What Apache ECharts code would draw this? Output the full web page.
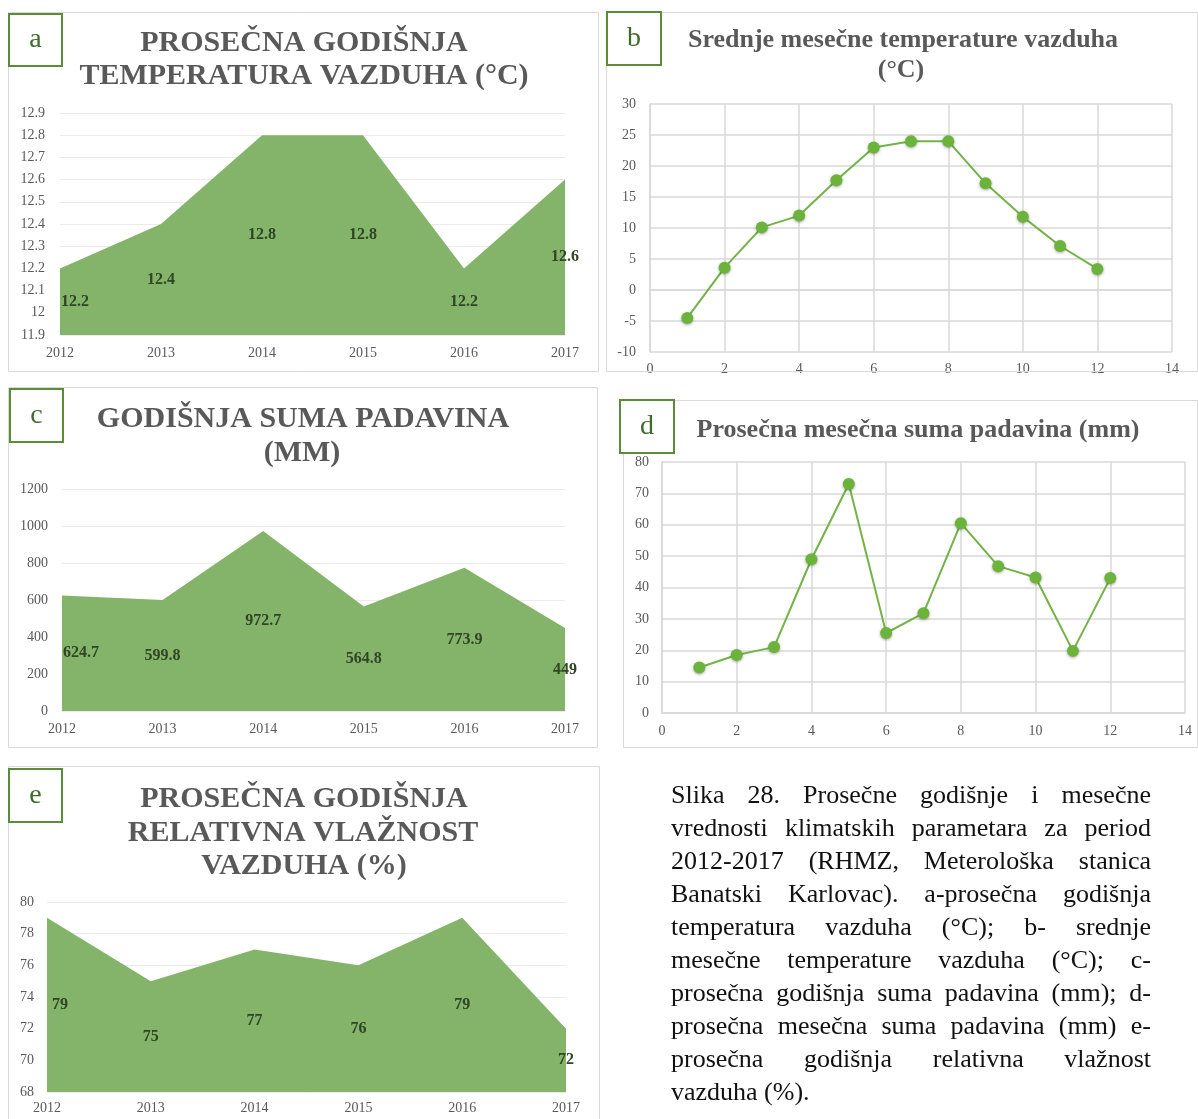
<!DOCTYPE html>
<html>
<head>
<meta charset="utf-8">
<script src="https://cdn.jsdelivr.net/npm/echarts@6/dist/echarts.min.js"></script>
<style>
html,body{margin:0;padding:0;background:#fff;}
#chart{position:absolute;left:0;top:0;width:1198px;height:1119px;}
#caption{position:absolute;left:671px;top:778px;width:480px;font-family:'Liberation Serif','Times New Roman',serif;font-size:26px;line-height:33px;color:#111;}
#caption .l{text-align:justify;text-align-last:justify;}
#caption .last{text-align:left;}
</style>
</head>
<body>
<div id="chart"></div>
<div id="caption">
<div class="l">Slika 28. Prosečne godišnje i mesečne</div>
<div class="l">vrednosti klimatskih parametara za period</div>
<div class="l">2012-2017 (RHMZ, Meterološka stanica</div>
<div class="l">Banatski Karlovac). a-prosečna godišnja</div>
<div class="l">temperatura vazduha (°C); b- srednje</div>
<div class="l">mesečne temperature vazduha (°C); c-</div>
<div class="l">prosečna godišnja suma padavina (mm); d-</div>
<div class="l">prosečna mesečna suma padavina (mm) e-</div>
<div class="l">prosečna godišnja relativna vlažnost</div>
<div class="last">vazduha (%).</div>
</div>
<script>
// ---- data ----
const years = ['2012', '2013', '2014', '2015', '2016', '2017'];
const tempYear = [12.2, 12.4, 12.8, 12.8, 12.2, 12.6];
const precipYear = [624.7, 599.8, 972.7, 564.8, 773.9, 449];
const humidYear = [79, 75, 77, 76, 79, 72];
const months = [1, 2, 3, 4, 5, 6, 7, 8, 9, 10, 11, 12];
const tempMonth = [-4.5, 3.6, 10.1, 12.0, 17.7, 23.0, 24.0, 24.0, 17.2, 11.8, 7.1, 3.4];
const precipMonth = [14.5, 18.5, 21.0, 49.0, 73.0, 25.5, 31.8, 60.5, 46.8, 43.2, 19.8, 43.0];

const FONT = '"Liberation Serif","Times New Roman",serif';
const AXC = '#595959';
const AREA = '#84b46a';
const LINEC = '#72b347';
const MARK = '#6cb33c';
const LBL = '#2f4524';

const chart = echarts.init(document.getElementById('chart'));

function catX(gi, margin) {
  return {
    type: 'category', gridIndex: gi, data: years, boundaryGap: false,
    axisLine: {show: false}, axisTick: {show: false},
    axisLabel: {color: AXC, fontFamily: FONT, fontSize: 14, margin: margin},
    splitLine: {show: false}
  };
}
function valY(gi, min, max, interval, margin, fmt) {
  return {
    type: 'value', gridIndex: gi, min: min, max: max, interval: interval,
    axisLine: {show: false}, axisTick: {show: false},
    axisLabel: {color: AXC, fontFamily: FONT, fontSize: 14, margin: margin, formatter: fmt},
    splitLine: {show: true, lineStyle: {color: '#ebebeb', width: 1}}
  };
}
function valXGrid(gi, margin) {
  return {
    type: 'value', gridIndex: gi, min: 0, max: 14, interval: 2,
    axisLine: {show: true, onZero: true, lineStyle: {color: '#d9d9d9', width: 1.5}},
    axisTick: {show: false},
    axisLabel: {color: AXC, fontFamily: FONT, fontSize: 14, margin: margin},
    splitLine: {show: true, lineStyle: {color: '#d9d9d9', width: 1.5}}
  };
}
function valYGrid(gi, min, max, interval, margin) {
  return {
    type: 'value', gridIndex: gi, min: min, max: max, interval: interval,
    axisLine: {show: true, onZero: true, lineStyle: {color: '#d9d9d9', width: 1.5}},
    axisTick: {show: false},
    axisLabel: {color: AXC, fontFamily: FONT, fontSize: 14, margin: margin},
    splitLine: {show: true, lineStyle: {color: '#d9d9d9', width: 1.5}}
  };
}
function areaSeries(id, xi, vals) {
  return {
    id: id, type: 'line', xAxisIndex: xi, yAxisIndex: xi, data: vals,
    symbol: 'circle', symbolSize: 1, showSymbol: true,
    itemStyle: {color: 'rgba(0,0,0,0)'},
    lineStyle: {width: 0},
    areaStyle: {color: AREA, opacity: 1, origin: 'start'},
    label: {show: true, position: 'inside', color: LBL, fontFamily: FONT, fontWeight: 'bold', fontSize: 16},
    emphasis: {disabled: true}, silent: true, z: 2
  };
}
function markerSeries(id, xi, xs, ys) {
  return {
    id: id, type: 'line', xAxisIndex: xi, yAxisIndex: xi,
    data: xs.map((x, i) => [x, ys[i]]),
    symbol: 'circle', symbolSize: 12, showSymbol: true,
    itemStyle: {color: MARK, shadowBlur: 3, shadowColor: 'rgba(0,0,0,0.35)', shadowOffsetY: 1},
    lineStyle: {color: LINEC, width: 2},
    emphasis: {disabled: true}, silent: true, z: 3
  };
}

function title(x, y, text, size) {
  return {
    type: 'text', x: x, y: y, z: 20,
    style: {text: text, font: 'bold ' + size + 'px ' + FONT, fill: '#595959',
      textAlign: 'center', textVerticalAlign: 'middle', align: 'center', verticalAlign: 'middle'}
  };
}
function panel(x, y, w, h) {
  return {type: 'rect', z: 1, shape: {x: x + 0.5, y: y + 0.5, width: w, height: h},
    style: {fill: 'none', stroke: '#d9d9d9', lineWidth: 1}};
}
function tag(x, y, w, h, letter) {
  return [
    {type: 'rect', z: 30, shape: {x: x, y: y, width: w, height: h},
      style: {fill: '#fff', stroke: '#5a8c3a', lineWidth: 2}},
    {type: 'text', z: 31, x: x + w / 2, y: y + h / 2,
      style: {text: letter, font: '28px ' + FONT, fill: '#3f6b2b',
        textAlign: 'center', textVerticalAlign: 'middle', align: 'center', verticalAlign: 'middle'}}
  ];
}

const option = {
  animation: false,
  backgroundColor: '#fff',
  grid: [
    {left: 60, top: 113, width: 505, height: 222},
    {left: 650, top: 104, width: 522, height: 248},
    {left: 62, top: 489, width: 503, height: 222},
    {left: 662, top: 462, width: 523, height: 251},
    {left: 47, top: 902, width: 519, height: 190}
  ],
  xAxis: [catX(0, 11), valXGrid(1, 10), catX(2, 11), valXGrid(3, 11), catX(4, 9)],
  yAxis: [
    valY(0, 11.9, 12.9, 0.1, 15, v => String(Math.round(v * 10) / 10)),
    valYGrid(1, -10, 30, 5, 14),
    valY(2, 0, 1200, 200, 14, v => String(v)),
    valYGrid(3, 0, 80, 10, 13),
    valY(4, 68, 80, 2, 13, v => String(v))
  ],
  series: [
    areaSeries('a', 0, tempYear),
    markerSeries('b', 1, months, tempMonth),
    areaSeries('c', 2, precipYear),
    markerSeries('d', 3, months, precipMonth),
    areaSeries('e', 4, humidYear)
  ],
  graphic: [
    panel(8, 12, 590, 359),
    panel(606, 12, 591, 359),
    panel(8, 387, 589, 360),
    panel(623, 400, 574, 347),
    panel(8, 766, 591, 360),
    ...tag(9, 14, 53, 52, 'a'),
    ...tag(607, 12, 54, 53, 'b'),
    ...tag(10, 389, 53, 53, 'c'),
    ...tag(620, 400, 54, 53, 'd'),
    ...tag(9, 769, 53, 53, 'e'),
    title(304, 43, 'PROSEČNA GODIŠNJA', 30),
    title(304, 76, 'TEMPERATURA VAZDUHA (°C)', 30),
    title(903, 40, 'Srednje mesečne temperature vazduha', 26),
    title(901, 70, '(°C)', 26),
    title(303, 419, 'GODIŠNJA SUMA PADAVINA', 30),
    title(302, 453, '(MM)', 30),
    title(918, 430, 'Prosečna mesečna suma padavina (mm)', 26),
    title(304, 799, 'PROSEČNA GODIŠNJA', 30),
    title(303, 833, 'RELATIVNA VLAŽNOST', 30),
    title(304, 866, 'VAZDUHA (%)', 30)
  ]
};
chart.setOption(option);

// place data labels at the middle of the filled area (between value and axis minimum)
function midLabels(seriesIndex, vals, ymin, firstShift) {
  return vals.map((v, i) => {
    const p = chart.convertToPixel({seriesIndex: seriesIndex}, [i, v]);
    const b = chart.convertToPixel({seriesIndex: seriesIndex}, [i, ymin]);
    const dy = (b[1] - p[1]) / 2;
    const lab = {offset: [0, dy]};
    if (i === 0) { lab.align = 'left'; lab.offset = [firstShift, dy]; }
    return {value: v, label: lab};
  });
}
chart.setOption({
  series: [
    {id: 'a', data: midLabels(0, tempYear, 11.9, 1)},
    {id: 'c', data: midLabels(2, precipYear, 0, 1)},
    {id: 'e', data: midLabels(4, humidYear, 68, 5)}
  ]
});
</script>
</body>
</html>
